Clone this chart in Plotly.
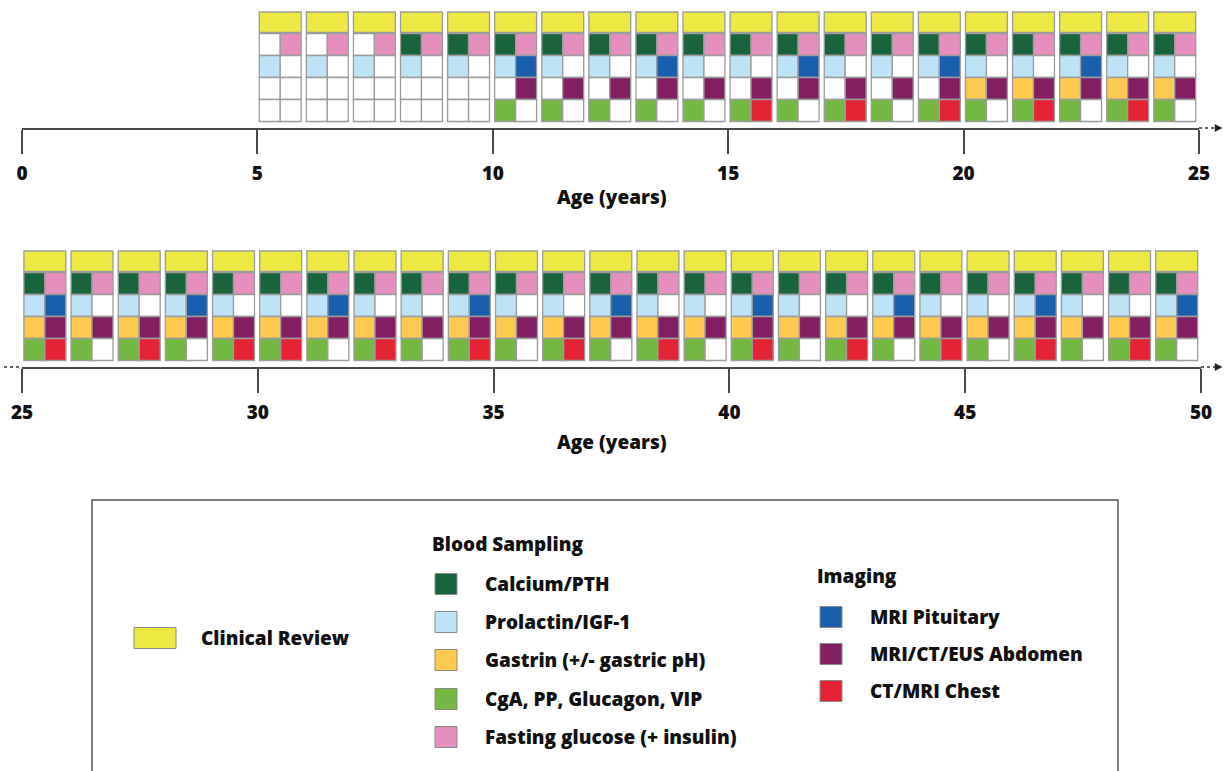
import plotly.graph_objects as go

W, H = 1226, 771

# ---------------- data (1 = performed at that age, 0 = not) ----------------
ages_top = [5, 6, 7, 8, 9, 10, 11, 12, 13, 14, 15, 16, 17, 18, 19, 20, 21, 22, 23, 24]
review_top = [1, 1, 1, 1, 1, 1, 1, 1, 1, 1, 1, 1, 1, 1, 1, 1, 1, 1, 1, 1]
calcium_top = [0, 0, 0, 1, 1, 1, 1, 1, 1, 1, 1, 1, 1, 1, 1, 1, 1, 1, 1, 1]
glucose_top = [1, 1, 1, 1, 1, 1, 1, 1, 1, 1, 1, 1, 1, 1, 1, 1, 1, 1, 1, 1]
prolactin_top = [1, 1, 1, 1, 1, 1, 1, 1, 1, 1, 1, 1, 1, 1, 1, 1, 1, 1, 1, 1]
mri_pit_top = [0, 0, 0, 0, 0, 1, 0, 0, 1, 0, 0, 1, 0, 0, 1, 0, 0, 1, 0, 0]
gastrin_top = [0, 0, 0, 0, 0, 0, 0, 0, 0, 0, 0, 0, 0, 0, 0, 1, 1, 1, 1, 1]
abdomen_top = [0, 0, 0, 0, 0, 1, 1, 1, 1, 1, 1, 1, 1, 1, 1, 1, 1, 1, 1, 1]
cga_top = [0, 0, 0, 0, 0, 1, 1, 1, 1, 1, 1, 1, 1, 1, 1, 1, 1, 1, 1, 1]
chest_top = [0, 0, 0, 0, 0, 0, 0, 0, 0, 0, 1, 0, 1, 0, 1, 0, 1, 0, 1, 0]

ages_bot = [25, 26, 27, 28, 29, 30, 31, 32, 33, 34, 35, 36, 37, 38, 39,
            40, 41, 42, 43, 44, 45, 46, 47, 48, 49]
review_bot = [1, 1, 1, 1, 1, 1, 1, 1, 1, 1, 1, 1, 1, 1, 1, 1, 1, 1, 1, 1, 1, 1, 1, 1, 1]
calcium_bot = [1, 1, 1, 1, 1, 1, 1, 1, 1, 1, 1, 1, 1, 1, 1, 1, 1, 1, 1, 1, 1, 1, 1, 1, 1]
glucose_bot = [1, 1, 1, 1, 1, 1, 1, 1, 1, 1, 1, 1, 1, 1, 1, 1, 1, 1, 1, 1, 1, 1, 1, 1, 1]
prolactin_bot = [1, 1, 1, 1, 1, 1, 1, 1, 1, 1, 1, 1, 1, 1, 1, 1, 1, 1, 1, 1, 1, 1, 1, 1, 1]
mri_pit_bot = [1, 0, 0, 1, 0, 0, 1, 0, 0, 1, 0, 0, 1, 0, 0, 1, 0, 0, 1, 0, 0, 1, 0, 0, 1]
gastrin_bot = [1, 1, 1, 1, 1, 1, 1, 1, 1, 1, 1, 1, 1, 1, 1, 1, 1, 1, 1, 1, 1, 1, 1, 1, 1]
abdomen_bot = [1, 1, 1, 1, 1, 1, 1, 1, 1, 1, 1, 1, 1, 1, 1, 1, 1, 1, 1, 1, 1, 1, 1, 1, 1]
cga_bot = [1, 1, 1, 1, 1, 1, 1, 1, 1, 1, 1, 1, 1, 1, 1, 1, 1, 1, 1, 1, 1, 1, 1, 1, 1]
chest_bot = [1, 0, 1, 0, 1, 1, 0, 1, 0, 1, 0, 1, 0, 1, 0, 1, 0, 1, 0, 1, 0, 1, 0, 1, 0]

ticks_top = [0, 5, 10, 15, 20, 25]
ticks_bot = [25, 30, 35, 40, 45, 50]
axis_title = "Age (years)"

# ---------------- styling ----------------
COL = {
    "review": "#EEE843",
    "calcium": "#17643D",
    "prolactin": "#BCE3F6",
    "gastrin": "#FDC94E",
    "cga": "#72B843",
    "glucose": "#E68EBD",
    "mri_pit": "#1A5EAE",
    "abdomen": "#821F62",
    "chest": "#E42434",
}
EDGE = "#9C9C9C"
FONT = "Open Sans"
WEIGHT = 800

fig = go.Figure()
shapes = []
annotations = []

# block geometry (fractions of a year, pixel rows on the y axes)
BX0, BXM, BX1 = 0.04, 0.485, 0.93


def add_blocks(ages, series, xref, yref, y_review, y_rows):
    left = ["calcium", "prolactin", "gastrin", "cga"]
    right = ["glucose", "mri_pit", "abdomen", "chest"]
    for i, a in enumerate(ages):
        x0, xm, x1 = a + BX0, a + BXM, a + BX1
        shapes.append(dict(type="rect", xref=xref, yref=yref, x0=x0, x1=x1,
                           y0=y_review[0], y1=y_review[1],
                           fillcolor=COL["review"] if series["review"][i] else "white",
                           line=dict(color=EDGE, width=1.3), layer="above"))
        for r in range(4):
            ya, yb = y_rows[r], y_rows[r + 1]
            for key, cx0, cx1 in ((left[r], x0, xm), (right[r], xm, x1)):
                on = series[key][i]
                shapes.append(dict(type="rect", xref=xref, yref=yref,
                                   x0=cx0, x1=cx1, y0=ya, y1=yb,
                                   fillcolor=COL[key] if on else "white",
                                   line=dict(color=EDGE, width=1.3), layer="above"))


top_series = dict(review=review_top, calcium=calcium_top, glucose=glucose_top,
                  prolactin=prolactin_top, mri_pit=mri_pit_top, gastrin=gastrin_top,
                  abdomen=abdomen_top, cga=cga_top, chest=chest_top)
bot_series = dict(review=review_bot, calcium=calcium_bot, glucose=glucose_bot,
                  prolactin=prolactin_bot, mri_pit=mri_pit_bot, gastrin=gastrin_bot,
                  abdomen=abdomen_bot, cga=cga_bot, chest=chest_bot)

add_blocks(ages_top, top_series, "x", "y", (12, 32.5), [33.5, 55.5, 77.5, 99.5, 121.5])
add_blocks(ages_bot, bot_series, "x2", "y2", (251, 271.5), [272.5, 294.5, 316.5, 338.5, 360.5])

# invisible traces so the subplots exist
fig.add_trace(go.Scatter(x=[ages_top[0]], y=[0], mode="markers",
                         marker=dict(opacity=0), xaxis="x", yaxis="y",
                         hoverinfo="skip", showlegend=False))
fig.add_trace(go.Scatter(x=[ages_bot[0]], y=[240], mode="markers",
                         marker=dict(opacity=0), xaxis="x2", yaxis="y2",
                         hoverinfo="skip", showlegend=False))


def px(x):
    return x / W


def py(y):
    return 1 - y / H


axis_common = dict(showline=True, linecolor="#4a4a4a", linewidth=1.5,
                   ticks="outside", ticklen=24, tickwidth=1.5, tickcolor="#4a4a4a",
                   showgrid=False, zeroline=False, fixedrange=True, automargin=False,
                   tickfont=dict(family=FONT, size=19, color="#111", weight=WEIGHT),
                   ticklabelstandoff=3)

fig.update_layout(
    width=W, height=H, autosize=False, margin=dict(l=0, r=0, t=0, b=0, pad=0),
    paper_bgcolor="white", plot_bgcolor="rgba(0,0,0,0)",
    showlegend=False,
    xaxis=dict(domain=[px(22), px(1199)], range=[ticks_top[0], ticks_top[-1]],
               tickmode="array", tickvals=ticks_top, anchor="y", **axis_common),
    yaxis=dict(domain=[py(128), 1], range=[128, 0], visible=False, fixedrange=True,
               automargin=False),
    xaxis2=dict(domain=[px(22), px(1201)], range=[ticks_bot[0], ticks_bot[-1]],
                tickmode="array", tickvals=ticks_bot, anchor="y2", **axis_common),
    yaxis2=dict(domain=[py(367), py(240)], range=[367, 240], visible=False, fixedrange=True,
                automargin=False),
)

# axis titles
for yy in (197, 442):
    annotations.append(dict(text=axis_title, x=px(612), y=py(yy), xref="paper", yref="paper",
                            showarrow=False, xanchor="center", yanchor="middle",
                            font=dict(family=FONT, size=19, color="#111", weight=WEIGHT)))


# dotted continuations and arrow heads
def dotted(xa, xb, y):
    shapes.append(dict(type="line", xref="paper", yref="paper", x0=px(xa), x1=px(xb),
                       y0=py(y), y1=py(y), line=dict(color="#333", width=1.5, dash="dot")))


def arrow_head(xtip, y):
    shapes.append(dict(type="path", xref="paper", yref="paper",
                       path=f"M {px(xtip-7)},{py(y-3.5)} L {px(xtip)},{py(y)} L {px(xtip-7)},{py(y+3.5)} Z",
                       fillcolor="#222", line=dict(color="#222", width=0.5)))


dotted(1199, 1215, 128)
arrow_head(1222, 128)
dotted(4, 22, 367)
dotted(1201, 1215, 367)
arrow_head(1222, 367)

# ---------------- legend box ----------------
shapes.append(dict(type="rect", xref="paper", yref="paper", x0=px(92), x1=px(1118),
                   y0=py(500), y1=py(790), line=dict(color="#555", width=1.5),
                   fillcolor="rgba(0,0,0,0)"))

LEG_FONT = dict(family=FONT, size=19, color="#111", weight=WEIGHT)


def swatch(x0, x1, yc, h, color):
    shapes.append(dict(type="rect", xref="paper", yref="paper", x0=px(x0), x1=px(x1),
                       y0=py(yc - h / 2), y1=py(yc + h / 2), fillcolor=color,
                       line=dict(color="#8a8a8a", width=1)))


def label(text, x, y):
    annotations.append(dict(text=text, x=px(x), y=py(y), xref="paper", yref="paper",
                            showarrow=False, xanchor="left", yanchor="middle", font=LEG_FONT))


swatch(134, 176, 638, 21, COL["review"])
label("Clinical Review", 199, 638)

label("Blood Sampling", 430, 544)
blood = [("calcium", "Calcium/PTH", 584), ("prolactin", "Prolactin/IGF-1", 622),
         ("gastrin", "Gastrin (+/- gastric pH)", 660), ("cga", "CgA, PP, Glucagon, VIP", 699),
         ("glucose", "Fasting glucose (+ insulin)", 737)]
for key, txt, yc in blood:
    swatch(435, 457, yc, 21, COL[key])
    label(txt, 483, yc)

label("Imaging", 815, 576)
imaging = [("mri_pit", "MRI Pituitary", 617), ("abdomen", "MRI/CT/EUS Abdomen", 654),
           ("chest", "CT/MRI Chest", 691)]
for key, txt, yc in imaging:
    swatch(820, 842, yc, 21, COL[key])
    label(txt, 868, yc)

fig.update_layout(shapes=shapes, annotations=annotations)
fig.write_html("out.html", config={"displayModeBar": False, "responsive": False},
               post_script="document.body.style.margin='0';document.body.style.padding='0';"
                           "document.body.style.overflow='hidden';")
